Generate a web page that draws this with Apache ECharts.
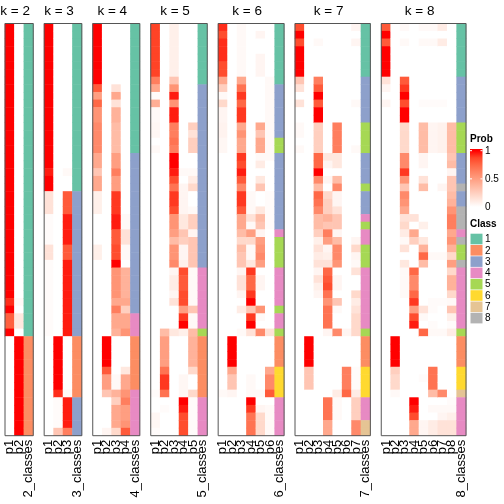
<!DOCTYPE html>
<html><head><meta charset="utf-8">
<script src="https://cdn.jsdelivr.net/npm/echarts@6/dist/echarts.min.js"></script>
<style>html,body{margin:0;padding:0;background:#fff}#c{width:504px;height:504px}</style>
</head><body><div id="c"></div>
<script>
// ---------- data (54 samples, same row order in every panel) ----------
const k2_p1 = [1,1,1,1,1,1,1,1,1,1, 1,1,1,1,1,1,1,1,1,1, 1,1,1,1,1,1,1,1,1,1, 1,1,1,1,1,1,0.92,1,0.78,0.78, 1,0,0,0,0,0,0,0,0,0, 0,0,0,0];
const k2_p2 = [0,0,0,0,0,0,0,0,0,0, 0,0,0,0,0,0,0,0,0,0, 0,0,0,0,0,0,0,0,0,0, 0,0,0,0,0,0,0.03,0,0.12,0.12, 0,1,1,1,1,1,1,1,1,1, 1,1,1,1];
const k2_cls = [1,1,1,1,1,1,1,1,1,1, 1,1,1,1,1,1,1,1,1,1, 1,1,1,1,1,1,1,1,1,1, 1,1,1,1,1,1,1,1,1,1, 1,2,2,2,2,2,2,2,2,2, 2,2,2,2];

const k3_p1 = [1,1,1,1,1,1,1,1,1,1, 1,1,1,1,1,1,1,1,1,0.95, 1,1,0.15,0.15,0.15,0.02,0.02,0.02,0.02,0.15, 0.15,0.02,0.02,0.02,0.02,0.02,0.02,0.02,0.02,0.02, 0.02,0,0,0,0,0,0,0,0,0, 0,0,0,0];
const k3_p2 = [0,0,0,0,0,0,0,0,0,0, 0,0,0,0,0,0,0,0,0,0, 0,0,0,0,0,0,0,0,0,0, 0,0,0,0,0,0,0,0,0,0, 0,1,1,1,1,1,1,1,0.92,0.02, 0.02,0.02,0.02,0.3];
const k3_p3 = [0,0,0,0,0,0,0,0,0,0, 0,0,0,0,0,0,0,0,0,0.03, 0,0,0.8,0.8,0.8,0.95,0.95,0.95,0.95,0.8, 0.8,0.95,0.95,0.95,0.95,0.95,0.95,0.95,0.95,0.95, 0.95,0,0,0,0,0,0,0,0.03,0.95, 0.95,0.95,0.95,0.65];
const k3_cls = [1,1,1,1,1,1,1,1,1,1, 1,1,1,1,1,1,1,1,1,1, 1,1,3,3,3,3,3,3,3,3, 3,3,3,3,3,3,3,3,3,3, 3,2,2,2,2,2,2,2,2,3, 3,3,3,3];

const k4_p1 = [1,1,1,1,1,1,1,1,0.8,0.5, 0.75,0.55,0.55,0.6,0.6,0.6,0.6,0.45,0.45,0.3, 0.45,0.45,0.08,0.08,0.08,0,0,0,0,0.08, 0.08,0,0,0,0,0,0,0,0,0, 0,0,0,0,0,0,0,0,0,0, 0,0,0,0];
const k4_p2 = [0,0,0,0,0,0,0,0,0,0, 0,0,0,0,0,0,0,0,0,0, 0,0,0,0,0,0,0,0,0,0, 0,0,0,0,0,0,0,0,0,0, 0,1,1,1,1,0.8,0.5,0.5,0.3,0, 0,0,0,0.05];
const k4_p3 = [0,0,0,0,0,0,0,0,0.15,0.45, 0.15,0.4,0.4,0.35,0.35,0.35,0.35,0.5,0.5,0.65, 0.5,0.5,0.9,0.9,0.9,0.95,0.95,0.8,0.8,0.85, 0.85,1,0.55,0.55,0.55,0.55,0.45,0.65,0.45,0.45, 0.4,0,0,0,0,0,0.03,0.03,0.4,0.25, 0.45,0.45,0.45,0.2];
const k4_p4 = [0,0,0,0,0,0,0,0,0,0, 0,0,0,0,0,0,0,0,0,0, 0,0,0,0,0,0.03,0.03,0.15,0.15,0.03, 0.03,0,0.4,0.4,0.4,0.4,0.45,0.25,0.45,0.45, 0.55,0,0,0,0,0.12,0.45,0.45,0.55,0.65, 0.5,0.5,0.55,0.8];
const k4_cls = [1,1,1,1,1,1,1,1,1,1, 1,1,1,1,1,1,1,3,3,3, 3,3,3,3,3,3,3,3,3,3, 3,3,3,3,3,3,3,3,4,4, 4,2,2,2,2,2,2,2,4,4, 4,4,4,4];

const k5_p1 = [0.88,0.88,0.88,0.88,0.88,0.88,0.88,0.65,0.45,0.02, 0.42,0.03,0.03,0.04,0.04,0,0.03,0,0,0, 0,0,0,0,0,0,0,0,0,0, 0,0,0,0,0,0,0,0,0,0, 0,0,0,0,0,0,0,0,0.02,0, 0,0.04,0.04,0.02];
const k5_p2 = [0,0,0,0,0,0,0,0,0,0, 0,0,0,0,0,0,0,0,0,0, 0,0,0,0,0,0,0,0,0,0, 0,0,0,0,0,0,0,0,0,0, 0.35,0.5,0.5,0.5,0.5,0.7,0.9,0.9,0.7,0, 0.02,0,0,0];
const k5_p3 = [0.08,0.08,0.08,0.08,0.08,0.08,0.08,0.3,0.55,0.95, 0.55,0.95,0.95,0.65,0.65,0.7,0.65,1,1,0.95, 0.85,0.7,0.9,0.9,0.85,0.55,0.55,0.5,0.35,0.55, 0.55,0.6,0.05,0.1,0.1,0.05,0.15,0,0,0, 0.12,0,0,0,0,0,0,0,0,0, 0,0,0,0];
const k5_p4 = [0,0,0,0,0,0,0,0,0,0, 0,0,0,0,0,0,0,0,0,0.03, 0,0.05,0.05,0.05,0.05,0.12,0.12,0.3,0.25,0.05, 0.05,0.08,0.85,0.8,0.8,0.85,0.85,0.5,0.9,1, 0.08,0,0,0,0,0,0.04,0.04,0.04,1, 0.95,0.85,0.85,0.85];
const k5_p5 = [0,0,0,0,0,0,0,0,0,0, 0,0,0,0.25,0.15,0.25,0.25,0,0,0.03, 0.1,0.2,0,0,0.03,0.25,0.25,0.05,0.3,0.3, 0.3,0.3,0.03,0.03,0.03,0.03,0.03,0.3,0.03,0.03, 0.35,0.4,0.4,0.4,0.4,0.2,0,0,0.2,0.02, 0.02,0.02,0.02,0.02];
const k5_cls = [1,1,1,1,1,1,1,1,3,3, 3,3,3,3,3,3,3,3,3,3, 3,3,3,3,3,3,3,3,3,3, 3,3,4,4,4,4,4,4,4,4, 5,2,2,2,2,2,2,2,2,4, 4,4,4,4];

const k6_p1 = [0.92,0.85,0.92,0.92,0.92,0.85,0.85,0.45,0.25,0.03, 0.2,0.05,0.05,0.06,0.06,0.04,0.04,0,0,0, 0,0,0,0,0,0,0,0,0,0, 0,0,0,0,0,0,0,0,0,0, 0,0,0,0,0,0,0,0,0.03,0, 0,0,0,0];
const k6_p2 = [0,0,0,0,0,0,0,0,0,0, 0,0,0,0,0,0,0,0,0,0, 0,0,0,0,0,0,0,0,0,0, 0,0,0,0,0,0,0,0,0,0, 0,1,1,1,1,0.45,0.3,0.3,0.05,0, 0,0,0,0];
const k6_p3 = [0.03,0.03,0.03,0.03,0.03,0.03,0.03,0.45,0.7,0.9, 0.75,0.9,0.9,0.45,0.55,0.45,0.45,0.9,0.85,0.95, 0.8,0.6,0.9,0.9,0.8,0.45,0.45,0.35,0.2,0.35, 0.3,0.3,0.05,0.15,0.15,0.05,0,0.1,0,0, 0.03,0,0,0,0,0,0,0,0,0, 0,0,0,0];
const k6_p4 = [0,0,0,0,0,0,0,0,0,0, 0,0,0,0,0,0,0,0,0,0, 0,0,0.03,0.03,0.03,0.15,0.03,0.5,0.2,0.03, 0.03,0.12,0.9,0.75,0.75,0.9,1,0.3,0.9,1, 0.15,0,0,0,0,0,0.03,0.03,0.03,1, 0.9,0.7,0.7,0.7];
const k6_p5 = [0,0.05,0,0,0.05,0.05,0.05,0,0,0, 0,0,0,0.45,0.3,0.45,0.45,0.03,0.1,0, 0.12,0.3,0,0,0.12,0.35,0.3,0.05,0.5,0.55, 0.6,0.5,0,0.05,0.05,0,0,0.55,0.03,0, 0.6,0,0,0,0,0,0,0,0.03,0, 0.05,0.2,0.2,0.2];
const k6_p6 = [0,0,0,0,0,0,0,0.03,0.03,0.03, 0.03,0.03,0.03,0.03,0.03,0.03,0.03,0.03,0,0, 0,0,0.02,0.02,0.02,0.02,0.02,0,0,0, 0,0,0,0,0,0,0,0,0,0, 0.15,0,0,0,0,0.45,0.6,0.6,0.8,0, 0.03,0.03,0.03,0.03];
const k6_cls = [1,1,1,1,1,1,1,1,3,3, 3,3,3,3,3,5,5,3,3,3, 3,3,3,3,3,3,3,4,5,5, 5,5,4,4,4,4,4,5,4,4, 5,2,2,2,2,6,6,6,6,4, 4,4,4,4];

const k7_p1 = [0.85,1,0.85,1,1,1,1,0.3,0.15,0, 0.15,0,0,0.03,0.03,0,0.03,0,0,0, 0,0,0,0,0,0,0,0,0,0, 0,0,0,0,0,0,0,0,0,0, 0,0,0,0,0,0,0,0,0,0, 0,0,0,0];
const k7_p2 = [0,0,0,0,0,0,0,0,0,0, 0,0,0,0,0,0,0,0,0,0, 0,0,0,0,0,0,0,0,0,0, 0,0,0,0,0,0,0,0,0,0, 0,1,1,1,1,0.3,0.3,0.3,0,0, 0,0,0,0];
const k7_p3 = [0,0,0.03,0,0,0,0,0.65,0.8,1, 0.8,1,1,0.25,0.25,0.25,0.25,0.75,0.75,1, 0.6,0.35,0.75,0.7,0.6,0.35,0.35,0.25,0.08,0.15, 0.1,0.15,0.05,0.15,0.08,0.05,0,0,0,0, 0,0,0,0,0,0,0,0,0,0, 0,0,0,0];
const k7_p4 = [0,0,0,0,0,0,0,0,0,0, 0,0,0,0,0,0,0,0.12,0.05,0, 0.05,0,0.2,0.25,0.25,0.4,0.3,0.65,0.5,0.05, 0.08,0.15,0.75,0.8,0.85,0.7,0.55,0.7,0.7,0.7, 0.05,0,0,0,0,0,0,0,0,0.7, 0.7,0.7,0.45,0.45];
const k7_p5 = [0,0,0,0,0,0,0,0,0,0, 0,0,0,0.65,0.65,0.65,0.65,0.12,0.12,0, 0.35,0.6,0.05,0.05,0.15,0.3,0.3,0.05,0.35,0.6, 0.6,0.55,0,0.05,0.05,0,0.3,0.03,0,0, 0.6,0,0,0,0,0,0,0,0.1,0.03, 0.03,0.03,0,0];
const k7_p6 = [0,0,0,0,0,0,0,0,0,0, 0,0,0,0,0,0,0,0,0,0, 0,0,0,0,0,0,0,0,0,0, 0,0,0,0,0,0,0,0,0,0, 0.05,0,0,0,0,0.65,0.65,0.65,0.75,0, 0,0,0,0];
const k7_p7 = [0.05,0,0.05,0,0,0,0,0,0,0, 0.03,0,0,0,0,0,0.03,0,0,0, 0,0,0,0,0,0,0,0,0.05,0.2, 0.05,0.03,0.15,0,0,0.2,0.1,0.15,0.2,0.2, 0.2,0,0,0,0,0.02,0.02,0.02,0.1,0.25, 0.25,0.25,0.6,0.6];
const k7_cls = [1,1,1,1,1,1,1,3,3,3, 3,3,3,5,5,5,5,3,3,3, 3,5,3,3,3,4,5,4,4,5, 5,5,4,4,4,4,4,4,4,4, 5,2,2,2,2,6,6,6,6,4, 4,4,7,7];

const k8_p1 = [0.8,1,0.8,1,1,1,1,0.15,0.05,0, 0.05,0,0,0,0,0,0,0,0,0, 0,0,0,0,0,0,0,0,0,0, 0,0,0,0,0,0,0,0,0,0, 0,0,0,0,0,0,0,0,0,0, 0,0,0,0];
const k8_p2 = [0,0,0,0,0,0,0,0,0,0, 0,0,0,0,0,0,0,0,0,0, 0,0,0,0,0,0,0,0,0,0, 0,0,0,0,0,0,0,0,0,0, 0,1,1,1,1,0.25,0.2,0.2,0.03,0, 0,0,0,0];
const k8_p3 = [0.03,0,0.03,0,0,0,0,0.8,0.9,1, 0.85,1,1,0.2,0.2,0.2,0.2,0.6,0.6,0.9, 0.55,0.3,0.6,0.55,0.45,0.15,0.2,0.1,0.03,0.15, 0,0.12,0.03,0.03,0.03,0.03,0,0,0,0, 0,0,0,0,0,0,0,0,0,0, 0,0,0,0];
const k8_p4 = [0,0,0,0,0,0,0,0,0,0, 0,0,0,0,0,0,0,0,0,0, 0,0,0,0,0,0.15,0,0.45,0.25,0, 0,0,0.75,0.6,0.6,0.75,0.9,0.5,0.85,0.95, 0,0,0,0,0,0,0,0,0,1, 0.95,0.85,0.45,0.45];
const k8_p5 = [0.03,0,0.03,0,0,0,0,0,0,0, 0.02,0,0,0.35,0.35,0.35,0.35,0.05,0.05,0, 0.15,0.35,0,0,0,0,0.08,0,0.12,0.4, 0.75,0.35,0,0,0,0,0,0.15,0.03,0, 0.75,0,0,0,0,0,0.02,0,0,0, 0,0,0.05,0.05];
const k8_p6 = [0.03,0,0.03,0,0,0,0,0,0,0, 0.02,0,0,0.05,0.05,0.05,0.05,0,0,0, 0,0,0,0,0,0,0,0,0,0, 0.03,0,0,0,0,0,0.02,0.02,0,0.02, 0.03,0,0,0,0,0.7,0.7,0.7,0.35,0, 0.03,0,0.1,0.1];
const k8_p7 = [0.1,0,0.1,0,0,0,0,0,0,0, 0.02,0,0,0.07,0.07,0.07,0.07,0,0,0, 0,0.05,0,0,0,0,0,0,0,0, 0.03,0,0,0,0,0,0.02,0,0,0, 0.03,0,0,0,0,0,0,0,0.6,0, 0.03,0.05,0.15,0.15];
const k8_p8 = [0,0,0,0,0,0,0,0,0,0, 0,0,0,0.35,0.35,0.35,0.35,0.3,0.35,0.05, 0.3,0.3,0.35,0.4,0.55,0.65,0.65,0.45,0.55,0.4, 0.2,0.5,0.2,0.4,0.4,0.2,0.03,0.3,0.08,0.02, 0.1,0,0,0,0,0,0,0,0,0.02, 0.03,0.08,0.15,0.15];
const k8_cls = [1,1,1,1,1,1,1,3,3,3, 3,3,3,5,5,5,5,3,3,3, 3,8,3,3,8,8,8,4,8,5, 5,8,4,4,4,4,4,4,4,4, 5,2,2,2,2,6,6,6,7,4, 4,4,4,4];

const classLabels = ['1','2','3','4','5','6','7','8'];
const probTicks = [1, 0.5, 0];

const panels = [
  {k:2, probs:[k2_p1,k2_p2], cls:k2_cls},
  {k:3, probs:[k3_p1,k3_p2,k3_p3], cls:k3_cls},
  {k:4, probs:[k4_p1,k4_p2,k4_p3,k4_p4], cls:k4_cls},
  {k:5, probs:[k5_p1,k5_p2,k5_p3,k5_p4,k5_p5], cls:k5_cls},
  {k:6, probs:[k6_p1,k6_p2,k6_p3,k6_p4,k6_p5,k6_p6], cls:k6_cls},
  {k:7, probs:[k7_p1,k7_p2,k7_p3,k7_p4,k7_p5,k7_p6,k7_p7], cls:k7_cls},
  {k:8, probs:[k8_p1,k8_p2,k8_p3,k8_p4,k8_p5,k8_p6,k8_p7,k8_p8], cls:k8_cls}
];
const NROW = 54;
panels.forEach(p => {
  p.probs.forEach((a,i) => { if (a.length !== NROW) throw new Error('k'+p.k+' p'+(i+1)+' len '+a.length); });
  if (p.cls.length !== NROW) throw new Error('k'+p.k+' cls len '+p.cls.length);
});

// ---------- styling ----------
const FONT = '"Liberation Sans", Arial, sans-serif';
const classColors = ['#66C2A5','#FC8D62','#8DA0CB','#E78AC3','#A6D854','#FFD92F','#E5C494','#B3B3B3'];
const probStops = ['#FFFFFF','#FFE7DE','#FFCFBF','#FFB7A0','#FF9E81','#FF8464','#FF6846','#FF4628','#FF0000'];
const X0 = 5, COLW = 9.42, GAP = 10.9, TOP = 23.5, H = 412.2;

const rows = Array.from({length: NROW}, (_, i) => String(i));
const grid = [], xAxis = [], yAxis = [], series = [], graphic = [];
const probIdx = [], clsIdx = [];
let x = X0;
panels.forEach((p, gi) => {
  const ncol = p.probs.length + 1;
  const w = ncol * COLW;
  grid.push({left: x, top: TOP, width: w, height: H});
  const cats = p.probs.map((_, i) => 'p' + (i + 1)).concat([p.k + '_classes']);
  xAxis.push({type: 'category', gridIndex: gi, data: cats, position: 'bottom',
    axisLine: {show: false}, axisTick: {show: false}, splitLine: {show: false},
    axisLabel: {rotate: 90, interval: 0, fontSize: 13, margin: 4, color: '#000', fontFamily: FONT}});
  yAxis.push({type: 'category', gridIndex: gi, data: rows, inverse: true, show: false});
  const pd = [];
  p.probs.forEach((arr, c) => arr.forEach((v, r) => pd.push([c, r, v])));
  probIdx.push(series.length);
  series.push({type: 'heatmap', xAxisIndex: gi, yAxisIndex: gi, data: pd, emphasis: {disabled: true}, progressive: 0});
  const cd = p.cls.map((v, r) => [ncol - 1, r, v]);
  clsIdx.push(series.length);
  series.push({type: 'heatmap', xAxisIndex: gi, yAxisIndex: gi, data: cd, emphasis: {disabled: true}, progressive: 0});
  // panel border
  graphic.push({type: 'rect', z: 100, silent: true, shape: {x: x, y: TOP, width: w, height: H},
    style: {fill: 'none', stroke: '#555', lineWidth: 1}});
  // title
  graphic.push({type: 'text', z: 100, x: x + w / 2 - 4, y: 11.5,
    style: {text: 'k = ' + p.k, fontSize: 13.5, fontFamily: FONT, fill: '#000', align: 'center', verticalAlign: 'middle'}});
  x += w + GAP;
});

// ---------- legends ----------
const LX = 470;
graphic.push({type: 'text', x: LX, y: 139.5, style: {text: 'Prob', fontSize: 10, fontWeight: 'bold', fontFamily: FONT, fill: '#000', verticalAlign: 'middle'}});
const barTop = 149, barBot = 207, barV1 = 150.7;
graphic.push({type: 'rect', shape: {x: LX, y: barTop, width: 12.5, height: barBot - barTop},
  style: {fill: new echarts.graphic.LinearGradient(0, 0, 0, 1,
    [{offset: 0, color: '#FF0000'}].concat(probStops.slice().reverse().map((c, i) => ({offset: (barV1 - barTop + i / (probStops.length - 1) * (barBot - barV1)) / (barBot - barTop), color: c}))))}});
probTicks.forEach(t => {
  const yy = barBot - t * (barBot - barV1);
  graphic.push({type: 'line', shape: {x1: LX, y1: yy, x2: LX + 2, y2: yy}, style: {stroke: '#fff', lineWidth: 1}});
  graphic.push({type: 'line', shape: {x1: LX + 10.5, y1: yy, x2: LX + 12.5, y2: yy}, style: {stroke: '#fff', lineWidth: 1}});
  graphic.push({type: 'text', x: LX + 15, y: yy + 0.5, style: {text: String(t), fontSize: 10, fontFamily: FONT, fill: '#000', verticalAlign: 'middle'}});
});
graphic.push({type: 'text', x: LX, y: 224, style: {text: 'Class', fontSize: 10, fontWeight: 'bold', fontFamily: FONT, fill: '#000', verticalAlign: 'middle'}});
classLabels.forEach((lab, i) => {
  const cy = 239 + i * 11.3;
  graphic.push({type: 'rect', shape: {x: LX + 0.5, y: cy - 5.3, width: 12, height: 10.6}, style: {fill: classColors[i]}});
  graphic.push({type: 'text', x: LX + 15, y: cy + 0.5, style: {text: lab, fontSize: 10, fontFamily: FONT, fill: '#000', verticalAlign: 'middle'}});
});

const chart = echarts.init(document.getElementById('c'), null, {renderer: 'canvas'});
chart.setOption({
  animation: false,
  backgroundColor: '#fff',
  grid, xAxis, yAxis, series, graphic,
  visualMap: [
    {type: 'continuous', min: 0, max: 1, dimension: 2, show: false, seriesIndex: probIdx, inRange: {color: probStops}},
    {type: 'piecewise', dimension: 2, show: false, seriesIndex: clsIdx,
     pieces: classColors.map((c, i) => ({value: i + 1, color: c}))}
  ]
});
</script>
</body></html>
